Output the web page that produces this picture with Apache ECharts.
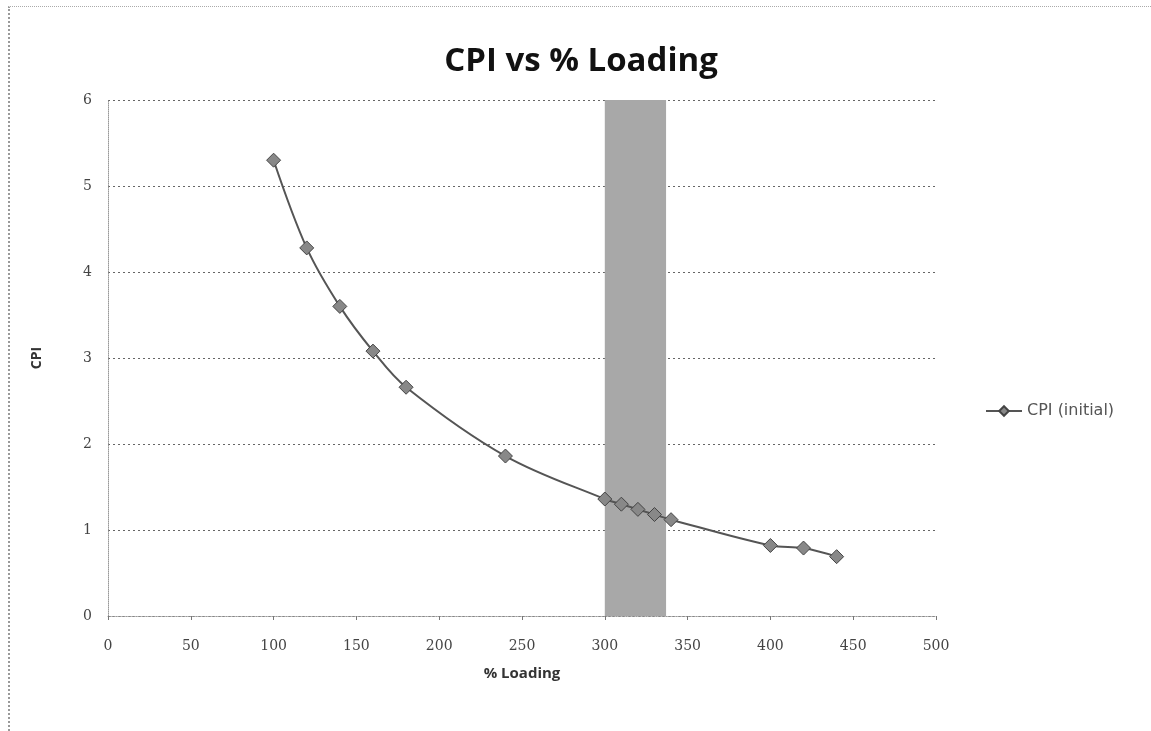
<!DOCTYPE html>
<html>
<head>
<meta charset="utf-8">
<script src="https://cdn.jsdelivr.net/npm/echarts@6/dist/echarts.min.js"></script>
<style>
html,body{margin:0;padding:0;background:#fff;}
#frame{position:absolute;left:8px;top:6px;width:1143px;height:725px;border-left:2px dotted #999;border-top:1px dotted #aaa;box-sizing:border-box;}
#c{position:absolute;left:0;top:0;width:1151px;height:731px;}
</style>
</head>
<body>
<div id="frame"></div>
<div id="c"></div>
<script>
const loading = [100, 120, 140, 160, 180, 240, 300, 310, 320, 330, 340, 400, 420, 440];
const cpi     = [5.30, 4.28, 3.60, 3.08, 2.66, 1.86, 1.36, 1.30, 1.24, 1.18, 1.12, 0.82, 0.79, 0.69];
const bandRange = [300, 337];
const seriesName = 'CPI (initial)';
const xTicks = {min: 0, max: 500, interval: 50};
const yTicks = {min: 0, max: 6, interval: 1};

const chart = echarts.init(document.getElementById('c'));
const pts = loading.map((x, i) => [x, cpi[i]]);
const labelFont = {color: '#444', fontSize: 14, fontFamily: 'DejaVu Serif'};
chart.setOption({
  backgroundColor: 'transparent',
  animation: false,
  title: {
    text: 'CPI vs % Loading', left: 576, top: 40, textAlign: 'center',
    textStyle: {fontSize: 33, fontWeight: 'bold', color: '#111', fontFamily: 'Open Sans'}
  },
  legend: {
    left: 980, top: 398, itemWidth: 36, itemHeight: 12, itemGap: 4,
    data: [seriesName],
    textStyle: {color: '#555', fontSize: 16, fontFamily: 'DejaVu Sans'}
  },
  grid: {left: 108, right: 215, top: 100, bottom: 115},
  xAxis: {
    type: 'value', min: xTicks.min, max: xTicks.max, interval: xTicks.interval,
    name: '% Loading', nameLocation: 'middle', nameGap: 50,
    nameTextStyle: {fontSize: 15, fontWeight: 'bold', color: '#333', fontFamily: 'Open Sans'},
    axisLine: {show: true, lineStyle: {color: '#999', type: 'dotted'}},
    axisTick: {show: true, length: 4, lineStyle: {color: '#777'}},
    axisLabel: Object.assign({margin: 23}, labelFont),
    splitLine: {show: false}
  },
  yAxis: {
    type: 'value', min: yTicks.min, max: yTicks.max, interval: yTicks.interval,
    name: 'CPI', nameLocation: 'middle', nameGap: 64, nameRotate: 90,
    nameTextStyle: {fontSize: 14, fontWeight: 'bold', color: '#333', fontFamily: 'Open Sans'},
    axisLine: {show: true, lineStyle: {color: '#999', type: 'dotted'}},
    axisTick: {show: false},
    axisLabel: Object.assign({margin: 16}, labelFont),
    splitLine: {show: true, lineStyle: {color: '#666', type: [2, 3], width: 1}}
  },
  series: [{
    name: seriesName,
    type: 'line',
    data: pts,
    smooth: 0.35,
    symbol: 'diamond',
    symbolSize: 14,
    lineStyle: {color: '#555', width: 2},
    itemStyle: {color: '#888', borderColor: '#444', borderWidth: 1},
    markArea: {
      silent: true,
      itemStyle: {color: '#a8a8a8'},
      data: [[{xAxis: bandRange[0]}, {xAxis: bandRange[1]}]]
    },
    z: 3
  }]
});
</script>
</body>
</html>
